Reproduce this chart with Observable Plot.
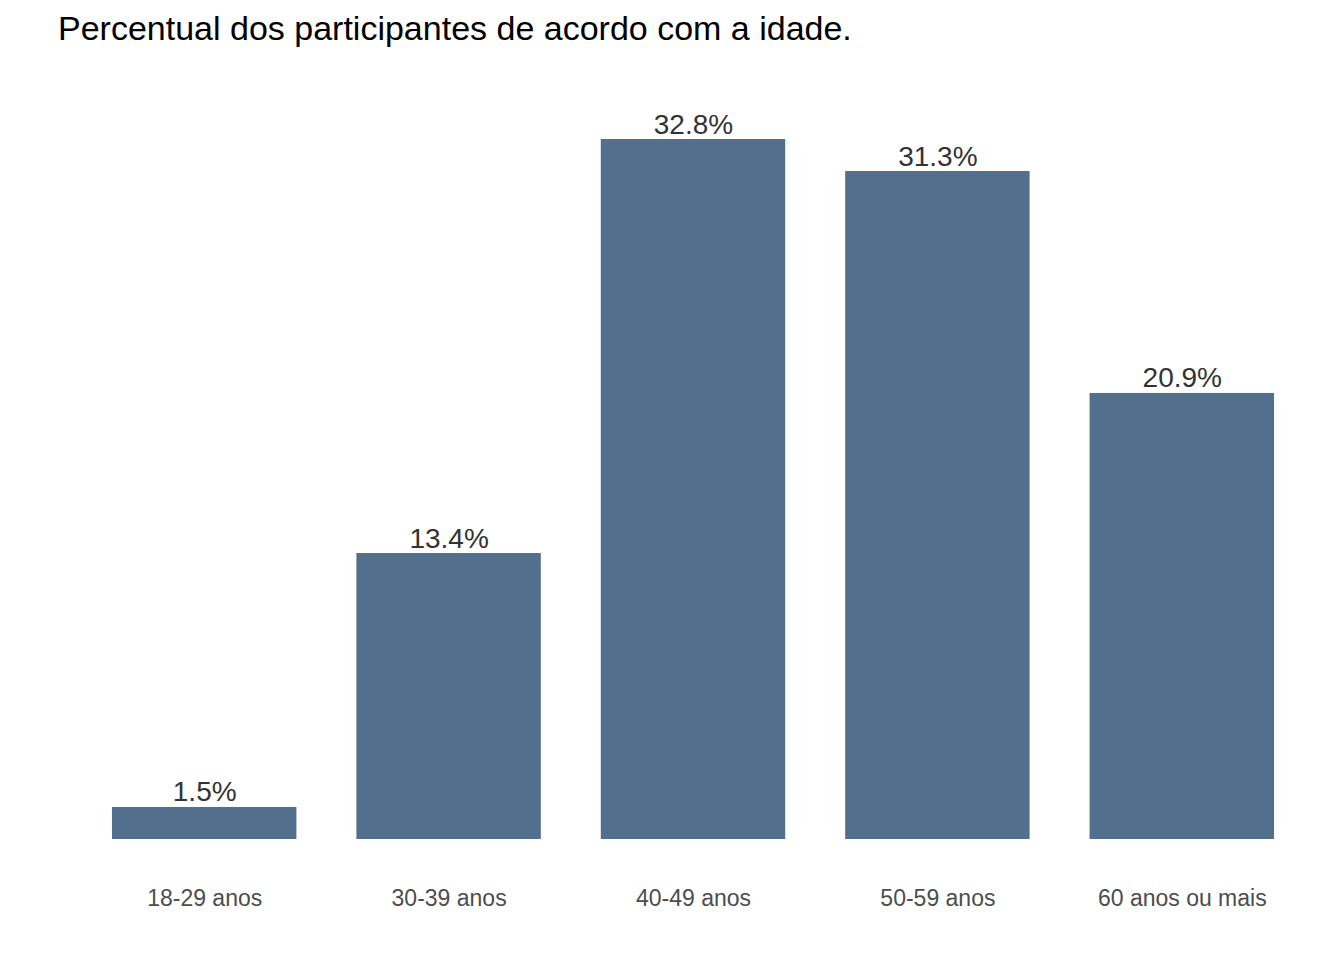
<!DOCTYPE html>
<html>
<head>
<meta charset="utf-8">
<script src="https://cdn.jsdelivr.net/npm/d3@7"></script>
<script src="https://cdn.jsdelivr.net/npm/@observablehq/plot@0.6"></script>
<style>
  html, body { margin: 0; padding: 0; background: #fff; }
  #wrap { position: relative; width: 1344px; height: 960px; }
  #title { position: absolute; left: 58px; top: 11px; font-family: "Liberation Sans", Arial, sans-serif; font-size: 34px; line-height: 34px; color: #000; white-space: nowrap; }
  #chart { position: absolute; left: 0; top: 60px; }
</style>
</head>
<body>
<div id="wrap">
  <div id="title">Percentual dos participantes de acordo com a idade.</div>
  <div id="chart"></div>
</div>
<script>
const categories = ["18-29 anos", "30-39 anos", "40-49 anos", "50-59 anos", "60 anos ou mais"];
const percents = [1.5, 13.4, 32.8, 31.3, 20.9];
const labels = ["1.5%", "13.4%", "32.8%", "31.3%", "20.9%"];

const data = categories.map((c, i) => ({cat: c, pct: percents[i], label: labels[i]}));
const yMax = d3.max(percents) * 1.05;

const chart = Plot.plot({
  width: 1344,
  height: 900,
  marginLeft: 57,
  marginRight: 15,
  marginTop: 44,
  marginBottom: 121,
  style: { fontFamily: "'Liberation Sans', Arial, sans-serif", background: "#fff" },
  x: { domain: categories, paddingInner: 0.2454, paddingOuter: 0.225, label: null, round: false },
  y: { domain: [0, yMax], axis: null },
  marks: [
    Plot.barY(data, { x: "cat", y: "pct", fill: "#52708d" }),
    Plot.text(data, { x: "cat", y: "pct", text: "label", lineAnchor: "bottom", dy: -6, fontSize: 28, fill: "#333333" }),
    Plot.axisX({ tickSize: 0, tickPadding: 50, fontSize: 23, color: "#4d4d4d", label: null })
  ]
});
document.getElementById("chart").appendChild(chart);
</script>
</body>
</html>
